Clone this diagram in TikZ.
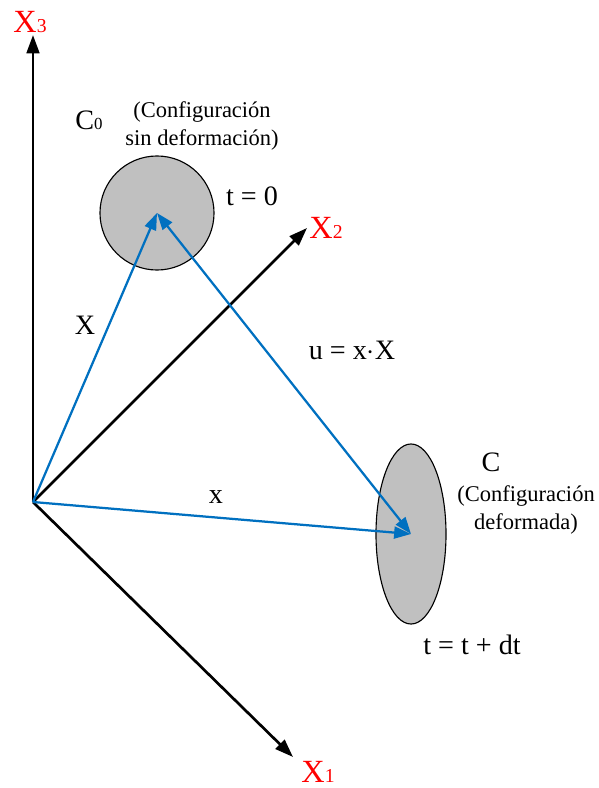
\documentclass[tikz,border=0pt]{standalone}
\usepackage{fontspec}
\setmainfont{Liberation Serif}
\usetikzlibrary{arrows.meta,shapes.geometric}
\definecolor{ejeRojo}{HTML}{FF0000}
\definecolor{vecAzul}{HTML}{0070C0}
\definecolor{cuerpoGris}{HTML}{C0C0C0}
\newcommand{\sublab}[3][12]{#2{\fontsize{#1}{#1}\selectfont #3}}
\tikzset{
    eje/.style={-{Triangle[length=13pt, width=9pt]}, line width=1.9pt, black},
    vec/.style={-{Triangle[length=12pt, width=8.5pt]}, line width=1.6pt, vecAzul},
    vecdoble/.style={{Triangle[length=12pt, width=8.5pt]}-{Triangle[length=12pt, width=8.5pt]}, line width=1.6pt, vecAzul},
    cuerpo/.style={draw=black, line width=0.8pt, fill=cuerpoGris, inner sep=0pt},
    rlab/.style={text=ejeRojo, inner sep=0pt, font=\fontsize{23}{23}\selectfont},
    lab/.style={inner sep=0pt, font=\fontsize{20}{20}\selectfont},
    nota/.style={inner sep=0pt, align=center, font=\fontsize{16}{20}\selectfont}
}
\begin{document}
\begin{tikzpicture}[x=0.025cm, y=-0.025cm]
    \useasboundingbox (0,0) rectangle (598,788);
    \node[cuerpo, circle, minimum size=2.85cm] (c0) at (157,213) {};
    \node[cuerpo, ellipse, minimum width=1.75cm, minimum height=4.5cm] (cf) at (411,534) {};
    \coordinate (o) at (33,502);
    \coordinate (e3) at (33,35);
    \coordinate (e2) at (307,228);
    \coordinate (e1) at (293,757);
    \foreach \e in {e1,e2,e3}{
        \draw[eje] (o) -- (\e);
    }
    \node[rlab] (x3) at (30,22) {\sublab[14]{X}{3}};
    \node[rlab] (x2) at (326,228) {\sublab[14]{X}{2}};
    \node[rlab] (x1) at (318,772) {\sublab[14]{X}{1}};
    \draw[vec] (o) -- (c0.center);
    \draw[vec] (o) -- (cf.center);
    \draw[vecdoble] (c0.center) -- (cf.center);
    \node[lab] (lc0) at (89,120) {\sublab{C}{0}};
    \node[nota] (n0) at (202,126) {(Configuración\\sin deformación)};
    \node[lab] (t0) at (252,196) {t = 0};
    \node[lab] (lX) at (85,325) {X};
    \node[lab] (lu) at (352,350) {u = x$\cdot$X};
    \node[lab] (lx) at (216,497) {x};
    \node[lab] (lc) at (491,462) {C};
    \node[nota] (nf) at (526,510) {(Configuración\\deformada)};
    \node[lab] (tf) at (472,645) {t = t + dt};
\end{tikzpicture}
\end{document}
